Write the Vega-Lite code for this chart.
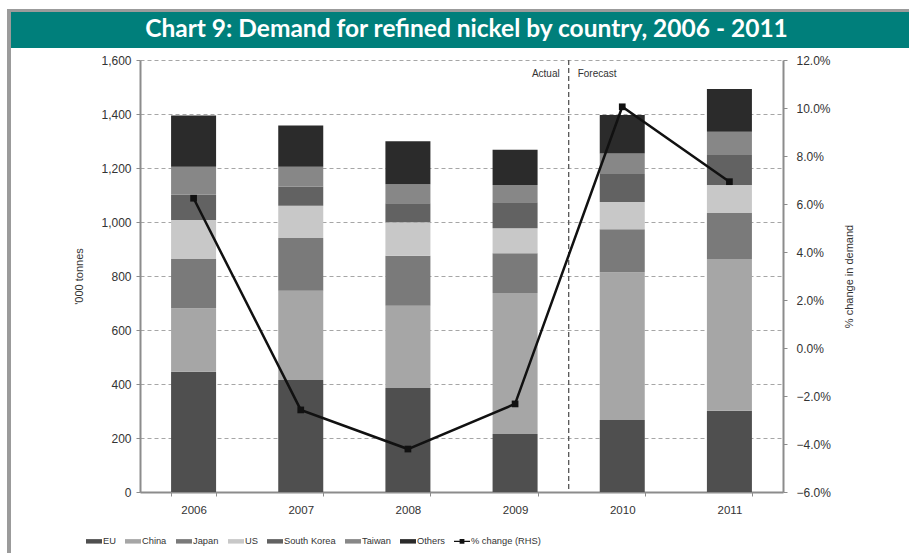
{
  "$schema": "https://vega.github.io/schema/vega-lite/v6.json",
  "background": "white",
  "padding": {"left": 7, "top": 9, "right": 0, "bottom": 0},
  "spacing": 0,
  "config": {"view": {"stroke": null}, "concat": {"spacing": 0}, "font": "Liberation Sans"},
  "datasets": {
    "demand": [
      {"year": "2006", "region": "EU", "tonnes": 445},
      {"year": "2006", "region": "China", "tonnes": 236},
      {"year": "2006", "region": "Japan", "tonnes": 182},
      {"year": "2006", "region": "US", "tonnes": 144},
      {"year": "2006", "region": "South Korea", "tonnes": 94},
      {"year": "2006", "region": "Taiwan", "tonnes": 104},
      {"year": "2006", "region": "Others", "tonnes": 189},
      {"year": "2007", "region": "EU", "tonnes": 415},
      {"year": "2007", "region": "China", "tonnes": 330},
      {"year": "2007", "region": "Japan", "tonnes": 196},
      {"year": "2007", "region": "US", "tonnes": 119},
      {"year": "2007", "region": "South Korea", "tonnes": 71},
      {"year": "2007", "region": "Taiwan", "tonnes": 74},
      {"year": "2007", "region": "Others", "tonnes": 152},
      {"year": "2008", "region": "EU", "tonnes": 385},
      {"year": "2008", "region": "China", "tonnes": 305},
      {"year": "2008", "region": "Japan", "tonnes": 185},
      {"year": "2008", "region": "US", "tonnes": 124},
      {"year": "2008", "region": "South Korea", "tonnes": 70},
      {"year": "2008", "region": "Taiwan", "tonnes": 71},
      {"year": "2008", "region": "Others", "tonnes": 159},
      {"year": "2009", "region": "EU", "tonnes": 215},
      {"year": "2009", "region": "China", "tonnes": 522},
      {"year": "2009", "region": "Japan", "tonnes": 147},
      {"year": "2009", "region": "US", "tonnes": 93},
      {"year": "2009", "region": "South Korea", "tonnes": 96},
      {"year": "2009", "region": "Taiwan", "tonnes": 64},
      {"year": "2009", "region": "Others", "tonnes": 131},
      {"year": "2010", "region": "EU", "tonnes": 267},
      {"year": "2010", "region": "China", "tonnes": 547},
      {"year": "2010", "region": "Japan", "tonnes": 159},
      {"year": "2010", "region": "US", "tonnes": 101},
      {"year": "2010", "region": "South Korea", "tonnes": 104},
      {"year": "2010", "region": "Taiwan", "tonnes": 76},
      {"year": "2010", "region": "Others", "tonnes": 142},
      {"year": "2011", "region": "EU", "tonnes": 301},
      {"year": "2011", "region": "China", "tonnes": 562},
      {"year": "2011", "region": "Japan", "tonnes": 170},
      {"year": "2011", "region": "US", "tonnes": 104},
      {"year": "2011", "region": "South Korea", "tonnes": 111},
      {"year": "2011", "region": "Taiwan", "tonnes": 86},
      {"year": "2011", "region": "Others", "tonnes": 159}
    ],
    "change": [
      {"year": "2006", "series": "% change (RHS)", "pct": 0.0624},
      {"year": "2007", "series": "% change (RHS)", "pct": -0.0258},
      {"year": "2008", "series": "% change (RHS)", "pct": -0.0421},
      {"year": "2009", "series": "% change (RHS)", "pct": -0.0233},
      {"year": "2010", "series": "% change (RHS)", "pct": 0.1005},
      {"year": "2011", "series": "% change (RHS)", "pct": 0.0693}
    ],
    "split": [
      {"year": "2010", "tonnes": 1550, "label": "Actual", "side": "left"},
      {"year": "2010", "tonnes": 1550, "label": "Forecast", "side": "right"}
    ]
  },
  "hconcat": [
    {
      "width": 4,
      "height": 544,
      "view": {"fill": "#9b9b9b", "stroke": null},
      "data": {"values": [{"k": 1}]},
      "mark": {"type": "rect", "color": "#9b9b9b"},
      "encoding": {}
    },
    {
      "spacing": 6,
      "vconcat": [
        {
          "width": 782,
          "height": 39,
          "data": {"values": [{"t": "Chart 9: Demand for refined nickel by country, 2006 - 2011"}]},
          "layer": [
            {
              "mark": {"type": "rect", "color": "#9b9b9b"},
              "encoding": {
                "x": {"datum": 0, "type": "quantitative", "scale": {"domain": [0, 1], "range": [-129, 782], "nice": false, "zero": false}, "axis": null},
                "x2": {"datum": 1},
                "y": {"datum": 36, "type": "quantitative", "scale": {"domain": [0, 39], "nice": false, "zero": false}, "axis": null},
                "y2": {"datum": 39}
              }
            },
            {
              "mark": {"type": "rect", "color": "#007f7b"},
              "encoding": {
                "x": {"datum": 0, "type": "quantitative", "scale": {"domain": [0, 1], "range": [-129, 782], "nice": false, "zero": false}, "axis": null},
                "x2": {"datum": 1},
                "y": {"datum": 0, "type": "quantitative", "scale": {"domain": [0, 39], "nice": false, "zero": false}, "axis": null},
                "y2": {"datum": 36}
              }
            },
            {
              "mark": {"type": "text", "color": "white", "font": "Lato", "fontWeight": "bold", "fontSize": 24.5, "baseline": "middle", "align": "center"},
              "encoding": {
                "x": {"datum": 0.5, "type": "quantitative", "scale": {"domain": [0, 1], "range": [-129, 782], "nice": false, "zero": false}, "axis": null},
                "y": {"datum": 18, "type": "quantitative", "scale": {"domain": [0, 39], "nice": false, "zero": false}, "axis": null},
                "text": {"field": "t"}
              }
            }
          ]
        },
        {
          "width": 643,
          "height": 432,
          "resolve": {"scale": {"y": "independent"}},
          "encoding": {
            "x": {
              "field": "year", "type": "nominal",
              "scale": {"paddingInner": 0.58, "paddingOuter": 0.29},
              "axis": {"title": null, "labelAngle": 0, "labelFont": "Liberation Sans", "labelFontSize": 11.5, "labelColor": "#333333", "domainColor": "#8c8c8c", "domainWidth": 2, "tickBand": "extent", "tickColor": "#8c8c8c", "tickSize": 4, "labelPadding": 8}
            }
          },
          "layer": [
            {
              "data": {"name": "demand"},
              "transform": [
                {"calculate": "indexof(['EU', 'China', 'Japan', 'US', 'South Korea', 'Taiwan', 'Others'], datum.region)", "as": "stackIndex"}
              ],
              "mark": {"type": "bar"},
              "encoding": {
                "y": {
                  "aggregate": "sum", "field": "tonnes", "type": "quantitative", "stack": "zero",
                  "scale": {"domain": [0, 1600]},
                  "axis": {"title": "'000 tonnes", "titleFont": "Liberation Sans", "titleFontWeight": "normal", "titleFontSize": 11, "titleColor": "#333333", "titlePadding": 16, "values": [0, 200, 400, 600, 800, 1000, 1200, 1400, 1600], "format": ",d", "labelFontSize": 12, "labelColor": "#333333", "labelPadding": 5, "grid": true, "gridDash": [4, 3], "gridColor": "#a6a6a6", "domainColor": "#8c8c8c", "domainWidth": 2, "tickColor": "#8c8c8c", "tickSize": 4}
                },
                "color": {
                  "field": "region", "type": "nominal",
                  "scale": {
                    "domain": ["EU", "China", "Japan", "US", "South Korea", "Taiwan", "Others", "% change (RHS)"],
                    "range": ["#4f4f4f", "#a6a6a6", "#7a7a7a", "#c8c8c8", "#626262", "#878787", "#2b2b2b", "#111111"]
                  },
                  "legend": {
                    "title": null, "orient": "none", "legendX": 79, "legendY": 524, "direction": "horizontal", "columns": 8,
                    "labelFont": "Liberation Sans", "labelFontSize": 9.3, "labelColor": "#333333", "labelOffset": 1, "columnPadding": 9,
                    "symbolSize": 256, "symbolStrokeWidth": 0,
                    "encode": {"symbols": {"update": {"shape": {"signal": "datum.value === '% change (RHS)' ? 'M-1,-0.09H1V0.09H-1Z M-0.3,-0.3H0.3V0.3H-0.3Z' : 'M-1,-0.28H1V0.28H-1Z'"}}}}
                  }
                },
                "order": {"field": "stackIndex", "type": "quantitative"}
              }
            },
            {
              "data": {"name": "split"},
              "mark": {"type": "rule", "strokeDash": [5, 3], "color": "#555555", "strokeWidth": 1},
              "encoding": {"x": {"field": "year", "type": "nominal", "bandPosition": -0.69}}
            },
            {
              "data": {"name": "split"},
              "transform": [{"filter": "datum.side === 'left'"}],
              "mark": {"type": "text", "align": "right", "dx": -9, "fontSize": 10, "color": "#333333"},
              "encoding": {
                "x": {"field": "year", "type": "nominal", "bandPosition": -0.69},
                "y": {"field": "tonnes", "type": "quantitative", "scale": {"domain": [0, 1600]}, "axis": null},
                "text": {"field": "label"}
              }
            },
            {
              "data": {"name": "split"},
              "transform": [{"filter": "datum.side === 'right'"}],
              "mark": {"type": "text", "align": "left", "dx": 9, "fontSize": 10, "color": "#333333"},
              "encoding": {
                "x": {"field": "year", "type": "nominal", "bandPosition": -0.69},
                "y": {"field": "tonnes", "type": "quantitative", "scale": {"domain": [0, 1600]}, "axis": null},
                "text": {"field": "label"}
              }
            },
            {
              "data": {"name": "change"},
              "encoding": {
                "y": {
                  "field": "pct", "type": "quantitative",
                  "scale": {"domain": [-0.06, 0.12]},
                  "axis": {"orient": "right", "title": "% change in demand", "titleAngle": -90, "titleFont": "Liberation Sans", "titleFontWeight": "normal", "titleFontSize": 11, "titleColor": "#333333", "titlePadding": 24, "values": [-0.06, -0.04, -0.02, 0, 0.02, 0.04, 0.06, 0.08, 0.1, 0.12], "format": ".1%", "labelFontSize": 12, "labelColor": "#333333", "labelPadding": 9, "grid": false, "domainColor": "#8c8c8c", "domainWidth": 2, "tickColor": "#8c8c8c", "tickSize": 4}
                },
                "color": {"field": "series", "type": "nominal"}
              },
              "layer": [
                {"mark": {"type": "line", "strokeWidth": 2.5}},
                {"mark": {"type": "point", "shape": "square", "filled": true, "size": 45, "opacity": 1}}
              ]
            }
          ]
        }
      ]
    }
  ]
}
